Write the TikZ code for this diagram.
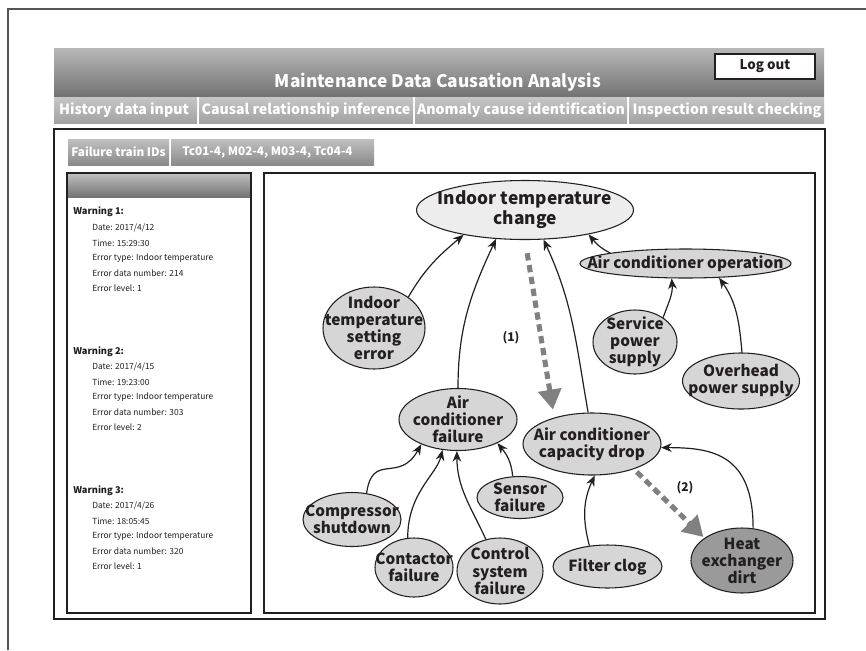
\documentclass[tikz,border=0pt]{standalone}
\usepackage{fontspec}
\setmainfont{Noto Sans CJK JP}
\usetikzlibrary{shapes.geometric,arrows.meta}

\definecolor{ink}{HTML}{231F20}
\definecolor{framegray}{HTML}{555555}
\definecolor{barhi}{HTML}{B8B8B8}
\definecolor{barlo}{HTML}{737373}
\definecolor{tabhi}{HTML}{C6C6C6}
\definecolor{tablo}{HTML}{A2A2A2}
\definecolor{chiphi}{HTML}{C0C0C0}
\definecolor{chiplo}{HTML}{8A8A8A}
\definecolor{nodefill}{HTML}{D6D6D6}
\definecolor{topfill}{HTML}{EDEDED}
\definecolor{darkfill}{HTML}{9A9A9A}
\definecolor{flow}{HTML}{808080}

\tikzset{
  px/.style 2 args={minimum width=#1*0.75pt, minimum height=#2*0.75pt},
  ell/.style={ellipse, draw=ink, line width=0.8pt, fill=nodefill, inner sep=0pt},
  lab/.style={align=center, text=ink, inner sep=0pt, font=\bfseries\fontsize{11.5}{12.8}\selectfont},
  biglab/.style={lab, font=\bfseries\fontsize{13}{15}\selectfont},
  arr/.style={ink, line width=0.9pt, -{Stealth[length=8pt,width=6.5pt]}},
  flowarr/.style={flow, line width=3.8pt, dash pattern=on 5.5pt off 3.5pt,
    -{Triangle[length=15pt,width=17pt]}},
  flowlab/.style={text=ink, font=\bfseries\fontsize{9}{11}\selectfont},
  titletext/.style={text=white, font=\bfseries\fontsize{13}{15}\selectfont},
  tabtext/.style={text=white, font=\bfseries\fontsize{10.6}{13}\selectfont},
  chiptext/.style={text=white, font=\bfseries\fontsize{8.8}{11}\selectfont},
  warnhead/.style={anchor=west, text=ink, inner sep=0pt, font=\bfseries\fontsize{7}{8.5}\selectfont},
  warnline/.style={anchor=west, text=ink, inner sep=0pt, font=\fontsize{6.3}{8}\selectfont},
}

\begin{document}
\begin{tikzpicture}[x=0.75pt,y=-0.75pt]
\useasboundingbox (0,0) rectangle (866,650);

% page frame
\draw[framegray, line width=0.9pt] (8,650) -- (8,9) -- (866,9);

% title bar
\shade[top color=barhi, bottom color=barlo] (54,48) rectangle (824,96);
\node[titletext] (title) at (438,82) {Maintenance Data Causation Analysis};
\node[draw=ink, line width=1pt, fill=white, px={100}{25}, text=ink,
      font=\bfseries\fontsize{10}{12}\selectfont] (logout) at (765,66.5) {Log out};

% menu tabs
\shade[top color=tabhi, bottom color=tablo] (54,97) rectangle (197,123);
\shade[top color=tabhi, bottom color=tablo] (199,97) rectangle (413,123);
\shade[top color=tabhi, bottom color=tablo] (415,97) rectangle (627,123);
\shade[top color=tabhi, bottom color=tablo] (629,97) rectangle (824,123);
\node[tabtext] (tab1) at (124,110) {History data input};
\node[tabtext] (tab2) at (306,110) {Causal relationship inference};
\node[tabtext] (tab3) at (521,110) {Anomaly cause identification};
\node[tabtext] (tab4) at (727,110) {Inspection result checking};

% main panel
\draw[ink, line width=1.1pt] (54,129) rectangle (825,619);

% train id chips
\shade[top color=chiphi, bottom color=chiplo] (68,139) rectangle (169,165);
\shade[top color=chiphi, bottom color=chiplo] (171,139) rectangle (374,165);
\node[chiptext] (chip1) at (118.5,152) {Failure train IDs};
\node[chiptext] (chip2) at (267.5,152) {Tc01-4, M02-4, M03-4, Tc04-4};

% warning list panel
\shade[top color=chiphi, bottom color=barlo] (67,173) rectangle (251,197);
\draw[ink, line width=1pt] (67,173) rectangle (251,613);

\node[warnhead] (w1) at (73,212) {Warning 1:};
\node[warnline] (w1a) at (92,228) {Date: 2017/4/12};
\node[warnline] (w1b) at (92,243) {Time: 15:29:30};
\node[warnline] (w1c) at (92,258) {Error type: Indoor temperature};
\node[warnline] (w1d) at (92,273) {Error data number: 214};
\node[warnline] (w1e) at (92,288) {Error level: 1};

\node[warnhead] (w2) at (73,352) {Warning 2:};
\node[warnline] (w2a) at (92,367) {Date: 2017/4/15};
\node[warnline] (w2b) at (92,382) {Time: 19:23:00};
\node[warnline] (w2c) at (92,397) {Error type: Indoor temperature};
\node[warnline] (w2d) at (92,412) {Error data number: 303};
\node[warnline] (w2e) at (92,427) {Error level: 2};

\node[warnhead] (w3) at (73,491) {Warning 3:};
\node[warnline] (w3a) at (92,506) {Date: 2017/4/26};
\node[warnline] (w3b) at (92,521) {Time: 18:05:45};
\node[warnline] (w3c) at (92,536) {Error type: Indoor temperature};
\node[warnline] (w3d) at (92,551) {Error data number: 320};
\node[warnline] (w3e) at (92,566) {Error level: 1};

% causal graph panel
\draw[ink, line width=1pt] (264,173) rectangle (815,613);

\node[ell, fill=topfill, px={217}{59},
      label={[biglab,name=itc-t]center:{Indoor temperature\\change}}] (itc) at (525,210) {};
\node[ell, px={211}{29},
      label={[lab,name=aco-t]center:{Air conditioner operation}}] (aco) at (685.5,263.5) {};
\node[ell, px={102}{82},
      label={[lab,name=ise-t]center:{Indoor\\temperature\\setting\\error}}] (ise) at (374,328) {};
\node[ell, px={84}{64},
      label={[lab,name=sps-t]center:{Service\\power\\supply}}] (sps) at (635,342) {};
\node[ell, px={117}{56},
      label={[lab,name=ops-t]center:{Overhead\\power supply}}] (ops) at (741,381) {};
\node[ell, px={118}{62},
      label={[lab,name=acf-t]center:{Air\\conditioner\\failure}}] (acf) at (458,419.5) {};
\node[ell, px={138}{62},
      label={[lab,name=accd-t]center:{Air conditioner\\capacity drop}}] (accd) at (592,444) {};
\node[ell, px={86}{42},
      label={[lab,name=sens-t]center:{Sensor\\failure}}] (sens) at (520,497.5) {};
\node[ell, px={98}{54},
      label={[lab,name=comp-t]center:{Compressor\\shutdown}}] (comp) at (352,519.5) {};
\node[ell, px={78}{59},
      label={[lab,name=cont-t]center:{Contactor\\failure}}] (cont) at (414,567.5) {};
\node[ell, px={86}{66},
      label={[lab,name=ctrl-t]center:{Control\\system\\failure}}] (ctrl) at (500,571) {};
\node[ell, px={109}{43},
      label={[lab,name=fc-t]center:{Filter clog}}] (fc) at (607.5,566.5) {};
\node[ell, fill=darkfill, px={102}{65},
      label={[lab,name=hed-t]center:{Heat\\exchanger\\dirt}}] (hed) at (742,560.5) {};

% causal links
\draw[arr] (ise.42) to[out=60,in=220] (itc.202);
\draw[arr] (acf.north) to[out=90,in=245] (itc.225);
\draw[arr] (accd.97) to[out=100,in=-65] (itc.302);
\draw[arr] (aco.172) to[out=155,in=-50] (itc.339);
\draw[arr] (sps.41) to[out=70,in=-85] (aco.227);
\draw[arr] (ops.88) to[out=95,in=-55] (aco.337);
\draw[arr] (comp.61) .. controls +(6,-42) and +(-22,40) .. (acf.214);
\draw[arr] (cont.102) .. controls +(0,-45) and +(-6,25) .. (acf.243);
\draw[arr] (ctrl.114) to[out=115,in=-90] (acf.268);
\draw[arr] (sens.109) to[out=95,in=-50] (acf.329);
\draw[arr] (fc.131) to[out=105,in=-115] (accd.275);
\draw[arr] (hed.71) .. controls +(0,-75) and +(50,0) .. (accd.357);

% inference steps
\draw[flowarr, shorten <=10pt, shorten >=6pt] (itc.270) -- (accd.145);
\draw[flowarr, shorten <=3pt, shorten >=1pt] (accd.329) -- (hed.149);
\node[flowlab] (step1) at (511,338) {(1)};
\node[flowlab] (step2) at (685,488) {(2)};

\end{tikzpicture}
\end{document}
